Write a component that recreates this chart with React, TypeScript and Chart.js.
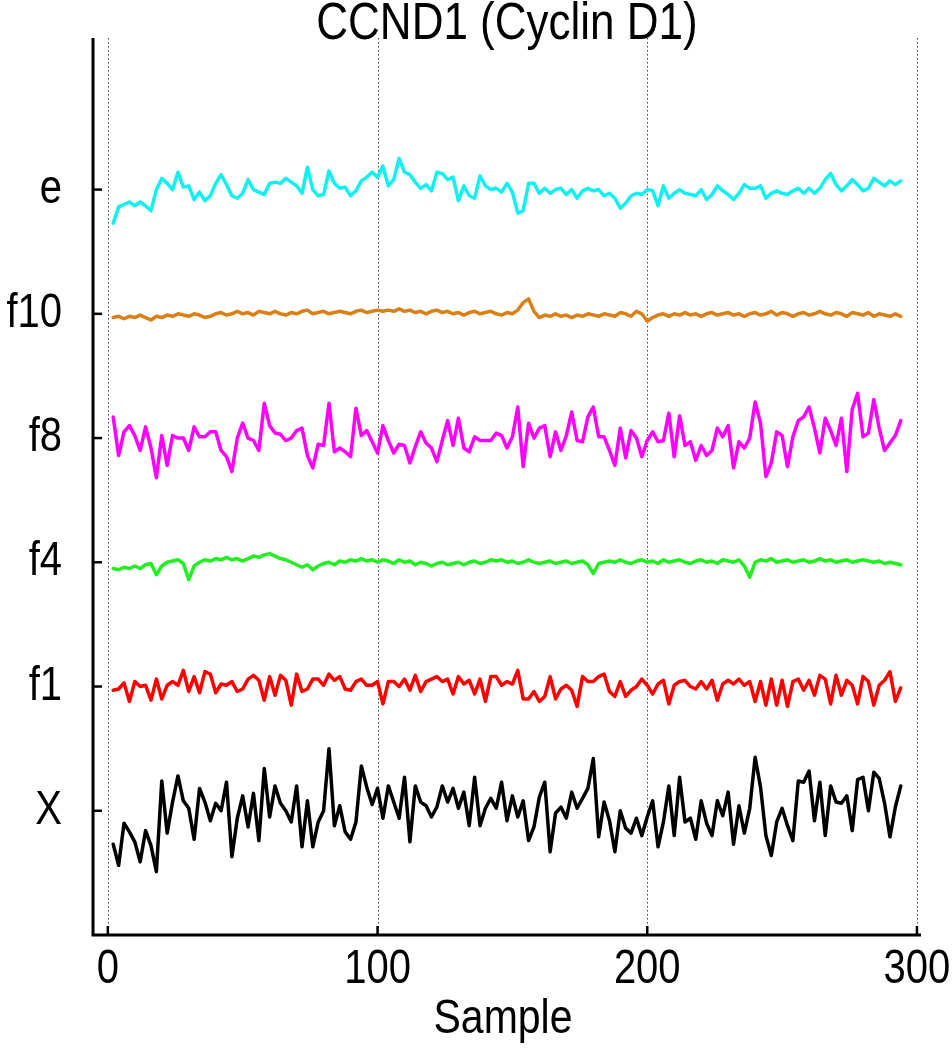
import React, { useEffect, useRef } from "react";
import { Chart, registerables } from "chart.js";

Chart.register(...registerables);

const TITLE = "CCND1 (Cyclin D1)";
const X_LABEL = "Sample";
const SERIES_NAMES = ["X", "f1", "f4", "f8", "f10", "e"];
const SERIES_COLORS = ["#000000", "#ff0000", "#22ee22", "#ff00ff", "#d98019", "#10f0f0"];
const X_TICKS = [0, 100, 200, 300];

// deviation of each series from its own baseline row, sampled at samples 2,4,...,294
const X_VALUES = [
  -0.27, -0.44, -0.10, -0.17, -0.25, -0.41, -0.16, -0.28, -0.49, 0.24,
  -0.18, 0.07, 0.28, 0.08, 0.02, -0.23, 0.18, 0.07, -0.08, 0.06,
  0.00, 0.23, -0.37, -0.06, 0.12, -0.13, 0.14, -0.24, 0.34, -0.05,
  0.20, 0.06, 0.00, -0.09, 0.20, -0.29, 0.08, -0.29, -0.09, 0.00,
  0.50, -0.12, 0.04, -0.17, -0.23, -0.09, 0.36, 0.19, 0.05, 0.18,
  -0.06, 0.20, 0.07, -0.06, 0.27, -0.25, 0.20, 0.07, 0.04, -0.05,
  0.03, 0.20, 0.07, 0.18, 0.02, 0.15, -0.12, 0.27, -0.12, 0.02,
  0.10, 0.02, 0.23, -0.08, 0.12, -0.05, 0.08, -0.24, -0.13, 0.11,
  0.23, -0.33, -0.02, 0.03, -0.06, 0.15, 0.02, 0.10, 0.18, 0.42,
  -0.21, 0.07, -0.08, -0.33, 0.00, -0.14, -0.18, -0.06, -0.20, -0.05,
  0.08, -0.29, -0.09, 0.20, -0.20, 0.27, -0.09, -0.06, -0.23, 0.08,
  -0.10, -0.20, 0.08, -0.04, 0.15, -0.27, 0.04, -0.18, 0.02, 0.43,
  0.19, -0.20, -0.36, -0.09, 0.02, -0.12, -0.24, 0.24, 0.23, 0.32,
  -0.08, 0.23, -0.20, 0.20, 0.07, 0.06, 0.12, -0.16, 0.25, 0.27,
  0.00, 0.31, 0.26, 0.06, -0.21, 0.03, 0.20,
];

const F1_VALUES = [
  -0.03, -0.02, 0.03, -0.12, 0.04, 0.00, 0.01, -0.11, 0.06, -0.10,
  0.01, 0.04, 0.01, 0.13, -0.04, 0.08, -0.05, 0.12, 0.10, -0.05,
  0.02, 0.01, 0.04, -0.04, -0.02, 0.06, 0.09, 0.05, -0.11, 0.08,
  -0.07, 0.09, 0.05, -0.15, 0.10, -0.04, -0.02, 0.06, 0.06, 0.01,
  0.10, 0.05, 0.08, -0.02, -0.03, 0.04, 0.06, 0.01, 0.01, 0.04,
  -0.14, 0.04, 0.04, 0.00, 0.06, -0.03, 0.09, -0.04, 0.04, 0.06,
  0.08, 0.04, 0.06, -0.06, 0.08, 0.02, 0.05, -0.06, 0.06, -0.12,
  0.08, 0.08, 0.01, 0.04, 0.02, 0.13, -0.10, -0.10, -0.04, -0.12,
  -0.08, 0.08, -0.10, -0.02, 0.01, -0.03, -0.16, 0.08, 0.04, 0.04,
  0.08, 0.10, -0.04, -0.08, 0.04, -0.08, -0.03, 0.00, 0.06, 0.01,
  -0.06, 0.02, 0.05, -0.14, 0.01, 0.04, 0.05, 0.00, -0.02, 0.04,
  -0.02, 0.05, -0.11, 0.02, 0.05, 0.02, 0.06, 0.01, 0.04, -0.12,
  0.04, -0.15, 0.06, -0.15, 0.05, -0.16, 0.04, 0.06, -0.03, 0.05,
  -0.07, 0.09, 0.06, -0.14, 0.09, -0.07, 0.05, 0.01, -0.14, 0.08,
  0.04, -0.15, 0.01, 0.05, 0.12, -0.12, -0.01,
];

const F4_VALUES = [
  -0.05, -0.06, -0.04, -0.05, -0.03, -0.05, -0.02, -0.01, -0.10, -0.03,
  0.00, 0.01, 0.02, -0.01, -0.14, -0.03, 0.00, 0.02, 0.01, 0.03,
  0.02, 0.04, 0.02, 0.03, 0.01, 0.03, 0.05, 0.04, 0.06, 0.07,
  0.05, 0.03, 0.02, 0.00, -0.02, -0.04, -0.02, -0.06, -0.03, -0.01,
  0.00, -0.02, 0.01, 0.00, 0.02, 0.01, 0.03, 0.01, 0.02, 0.00,
  0.02, 0.01, -0.01, 0.02, 0.00, 0.01, -0.02, 0.00, -0.01, -0.03,
  -0.01, 0.00, -0.02, -0.01, 0.00, -0.02, 0.00, 0.01, -0.01, 0.00,
  0.02, 0.01, 0.02, 0.00, 0.01, -0.01, 0.00, 0.02, 0.00, -0.01,
  0.00, 0.01, -0.01, 0.00, 0.01, -0.01, 0.00, 0.01, -0.02, -0.09,
  -0.01, 0.00, 0.01, 0.00, 0.02, 0.00, -0.01, 0.01, 0.02, 0.00,
  0.01, -0.01, 0.02, 0.00, 0.01, 0.02, 0.00, -0.01, 0.01, 0.02,
  0.00, 0.01, -0.01, 0.02, 0.01, 0.00, 0.02, -0.03, -0.12, 0.00,
  0.02, 0.01, 0.03, 0.00, 0.01, 0.02, 0.00, 0.01, 0.02, 0.00,
  0.01, 0.03, 0.01, 0.02, 0.00, 0.01, 0.02, 0.00, 0.01, 0.02,
  0.01, 0.00, 0.01, -0.01, 0.00, -0.01, -0.02,
];

const F8_VALUES = [
  0.17, -0.14, 0.05, 0.10, 0.02, -0.10, 0.09, -0.08, -0.32, 0.02,
  -0.22, 0.02, 0.00, 0.00, -0.10, 0.09, 0.01, 0.01, 0.05, 0.05,
  -0.10, -0.15, -0.27, 0.00, 0.12, 0.00, -0.02, -0.10, 0.28, 0.10,
  0.04, 0.03, -0.02, 0.00, 0.06, 0.08, -0.14, -0.24, -0.05, -0.06,
  0.28, -0.11, -0.08, -0.11, -0.15, 0.24, 0.02, 0.06, -0.03, -0.12,
  0.10, -0.02, -0.12, -0.05, -0.06, -0.20, -0.07, 0.05, -0.04, -0.08,
  -0.19, -0.02, 0.14, -0.06, 0.16, -0.08, -0.11, 0.01, -0.02, -0.02,
  -0.02, 0.04, 0.02, -0.08, 0.01, 0.25, -0.23, 0.12, 0.00, 0.08,
  0.10, -0.15, 0.05, -0.10, 0.02, 0.21, -0.02, -0.03, 0.17, 0.25,
  0.01, 0.01, -0.10, -0.22, 0.08, -0.16, 0.06, 0.00, -0.15, -0.02,
  0.05, -0.03, -0.02, 0.20, -0.15, 0.18, -0.06, -0.03, -0.18, -0.06,
  -0.14, -0.10, 0.08, 0.01, 0.10, -0.24, -0.03, -0.08, 0.00, 0.29,
  0.12, -0.31, -0.20, 0.05, 0.02, -0.23, 0.01, 0.14, 0.17, 0.25,
  0.08, -0.12, 0.16, 0.06, -0.06, 0.16, -0.27, 0.23, 0.36, 0.01,
  0.04, 0.31, 0.08, -0.10, -0.04, 0.02, 0.14,
];

const F10_VALUES = [
  -0.03, -0.02, -0.04, -0.02, -0.03, -0.01, -0.03, -0.05, -0.02, -0.03,
  -0.01, -0.02, 0.00, -0.01, -0.02, 0.00, -0.01, -0.03, -0.02, 0.00,
  0.01, -0.01, 0.00, 0.02, 0.00, 0.01, -0.01, 0.02, 0.01, 0.00,
  0.02, 0.00, -0.01, 0.01, 0.00, 0.02, 0.03, 0.00, 0.01, 0.02,
  0.00, 0.01, 0.02, 0.01, 0.00, 0.02, 0.03, 0.01, 0.02, 0.03,
  0.02, 0.03, 0.02, 0.04, 0.02, 0.03, 0.01, 0.02, 0.00, 0.02,
  0.03, 0.01, 0.02, 0.00, 0.01, -0.01, 0.01, 0.02, 0.00, 0.01,
  0.02, 0.00, -0.01, 0.01, 0.00, 0.03, 0.09, 0.12, 0.02, -0.03,
  -0.01, -0.02, 0.00, -0.02, -0.01, -0.03, -0.01, -0.02, 0.00, -0.01,
  -0.02, 0.00, -0.01, -0.02, 0.01, 0.00, -0.02, 0.02, 0.00, -0.06,
  -0.03, -0.01, 0.00, -0.02, 0.00, -0.01, 0.01, -0.01, 0.00, -0.02,
  0.00, 0.01, -0.01, 0.00, 0.01, -0.01, 0.00, -0.02, 0.00, 0.01,
  -0.01, 0.00, 0.02, -0.01, 0.01, 0.00, -0.02, 0.00, 0.01, -0.01,
  0.00, 0.02, 0.00, -0.01, 0.01, 0.00, -0.02, 0.01, 0.00, -0.01,
  0.01, -0.02, 0.00, -0.01, -0.02, 0.00, -0.02,
];

const E_VALUES = [
  -0.27, -0.14, -0.12, -0.10, -0.13, -0.10, -0.13, -0.17, 0.00, 0.09,
  0.05, 0.00, 0.14, 0.02, 0.03, -0.08, -0.02, -0.09, -0.05, 0.05,
  0.12, 0.04, -0.05, -0.07, -0.03, 0.08, 0.00, -0.02, -0.04, 0.05,
  0.06, 0.05, 0.09, 0.06, 0.03, -0.03, 0.18, 0.00, -0.05, -0.04,
  0.15, 0.05, 0.01, 0.02, -0.05, -0.01, 0.07, 0.10, 0.14, 0.10,
  0.19, 0.03, 0.08, 0.25, 0.14, 0.12, 0.06, 0.01, 0.04, -0.01,
  0.14, 0.13, 0.08, 0.10, -0.09, 0.03, -0.05, -0.07, 0.11, 0.03,
  0.00, 0.01, -0.02, 0.05, -0.02, -0.19, -0.17, 0.05, 0.05, -0.03,
  0.01, -0.03, 0.00, 0.01, -0.04, 0.00, -0.07, -0.01, 0.01, -0.01,
  0.00, -0.05, -0.03, -0.07, -0.15, -0.11, -0.05, -0.03, -0.04, 0.00,
  -0.01, -0.13, 0.03, -0.07, -0.03, 0.00, -0.03, -0.04, -0.05, 0.00,
  -0.08, -0.04, 0.03, -0.01, -0.04, -0.08, -0.03, 0.04, 0.01, 0.01,
  0.03, -0.07, -0.03, -0.01, -0.03, -0.04, -0.01, 0.01, -0.03, 0.01,
  -0.03, 0.01, 0.08, 0.13, 0.04, -0.01, 0.03, 0.08, 0.04, -0.01,
  0.01, 0.09, 0.06, 0.03, 0.07, 0.04, 0.07,
];

const SERIES_VALUES = [X_VALUES, F1_VALUES, F4_VALUES, F8_VALUES, F10_VALUES, E_VALUES];
const SAMPLES = X_VALUES.map((_, i) => 2 + 2 * i);

const FONT = '"Liberation Sans", Arial, Helvetica, sans-serif';
const TEXT_STRETCH = 1.18;

function drawText(ctx: CanvasRenderingContext2D, text: string, x: number, y: number, size: number, align: CanvasTextAlign) {
  ctx.save();
  ctx.font = `${size}px ${FONT}`;
  ctx.fillStyle = "#000";
  ctx.textAlign = align;
  ctx.textBaseline = "middle";
  ctx.translate(x, y);
  ctx.scale(1, TEXT_STRETCH);
  ctx.fillText(text, 0, 0);
  ctx.restore();
}

const axesPlugin = {
  id: "matlabAxes",
  beforeDatasetsDraw(chart: any) {
    const { ctx, chartArea, scales } = chart;
    ctx.save();
    ctx.strokeStyle = "#444";
    ctx.lineWidth = 1;
    ctx.setLineDash([1.5, 2.5]);
    X_TICKS.forEach((t) => {
      const px = Math.round(scales.x.getPixelForValue(t)) + 0.5;
      ctx.beginPath();
      ctx.moveTo(px, chartArea.top);
      ctx.lineTo(px, chartArea.bottom);
      ctx.stroke();
    });
    ctx.restore();
  },
  afterDatasetsDraw(chart: any) {
    const { ctx, chartArea, scales } = chart;
    ctx.save();
    ctx.strokeStyle = "#000";
    ctx.lineWidth = 3;
    ctx.beginPath();
    ctx.moveTo(chartArea.left, chartArea.top);
    ctx.lineTo(chartArea.left, chartArea.bottom);
    ctx.lineTo(chartArea.right, chartArea.bottom);
    ctx.stroke();
    ctx.lineWidth = 2.5;
    X_TICKS.forEach((t) => {
      const px = scales.x.getPixelForValue(t);
      ctx.beginPath();
      ctx.moveTo(px, chartArea.bottom);
      ctx.lineTo(px, chartArea.bottom - 9);
      ctx.stroke();
    });
    SERIES_NAMES.forEach((_, i) => {
      const py = scales.y.getPixelForValue(i);
      ctx.beginPath();
      ctx.moveTo(chartArea.left, py);
      ctx.lineTo(chartArea.left + 9, py);
      ctx.stroke();
    });
    ctx.restore();
  },
  afterDraw(chart: any) {
    const { ctx, chartArea, scales } = chart;
    const cx = (chartArea.left + chartArea.right) / 2;
    drawText(ctx, TITLE, cx, 25, 44, "center");
    SERIES_NAMES.forEach((name, i) => {
      drawText(ctx, name, chartArea.left - 31, scales.y.getPixelForValue(i), 40, "right");
    });
    X_TICKS.forEach((t) => {
      drawText(ctx, String(t), scales.x.getPixelForValue(t), chartArea.bottom + 35, 40, "center");
    });
    drawText(ctx, X_LABEL, cx - 4, chartArea.bottom + 85, 41, "center");
  },
};

export default function App() {
  const canvasRef = useRef<HTMLCanvasElement | null>(null);

  useEffect(() => {
    const canvas = canvasRef.current;
    if (!canvas) return;
    const chart = new Chart(canvas, {
      type: "line",
      data: {
        datasets: SERIES_NAMES.map((name, i) => ({
          label: name,
          data: SERIES_VALUES[i].map((v, j) => ({ x: SAMPLES[j], y: i + v })),
          borderColor: SERIES_COLORS[i],
          backgroundColor: SERIES_COLORS[i],
          borderWidth: 3.5,
          borderJoinStyle: "round",
          borderCapStyle: "round",
          pointRadius: 0,
          tension: 0,
          fill: false,
        })),
      },
      options: {
        animation: false,
        responsive: false,
        devicePixelRatio: 1,
        layout: { padding: { top: 38, right: 31, bottom: 0, left: 0 } },
        plugins: {
          legend: { display: false },
          tooltip: { enabled: false },
          title: { display: false },
        },
        scales: {
          x: {
            type: "linear",
            min: -5.5,
            max: 301.5,
            grid: { display: false },
            border: { display: false },
            ticks: { display: false },
            afterFit: (s: any) => {
              s.height = 115;
            },
          },
          y: {
            type: "linear",
            min: -1,
            max: 6.22,
            grid: { display: false },
            border: { display: false },
            ticks: { display: false },
            afterFit: (s: any) => {
              s.width = 93;
            },
          },
        },
      },
      plugins: [axesPlugin],
    } as any);
    return () => chart.destroy();
  }, []);

  return (
    <div style={{ position: "absolute", left: 0, top: 0, width: 952, height: 1050, background: "#fff" }}>
      <canvas ref={canvasRef} width={952} height={1050} style={{ display: "block", width: 952, height: 1050 }} />
    </div>
  );
}
